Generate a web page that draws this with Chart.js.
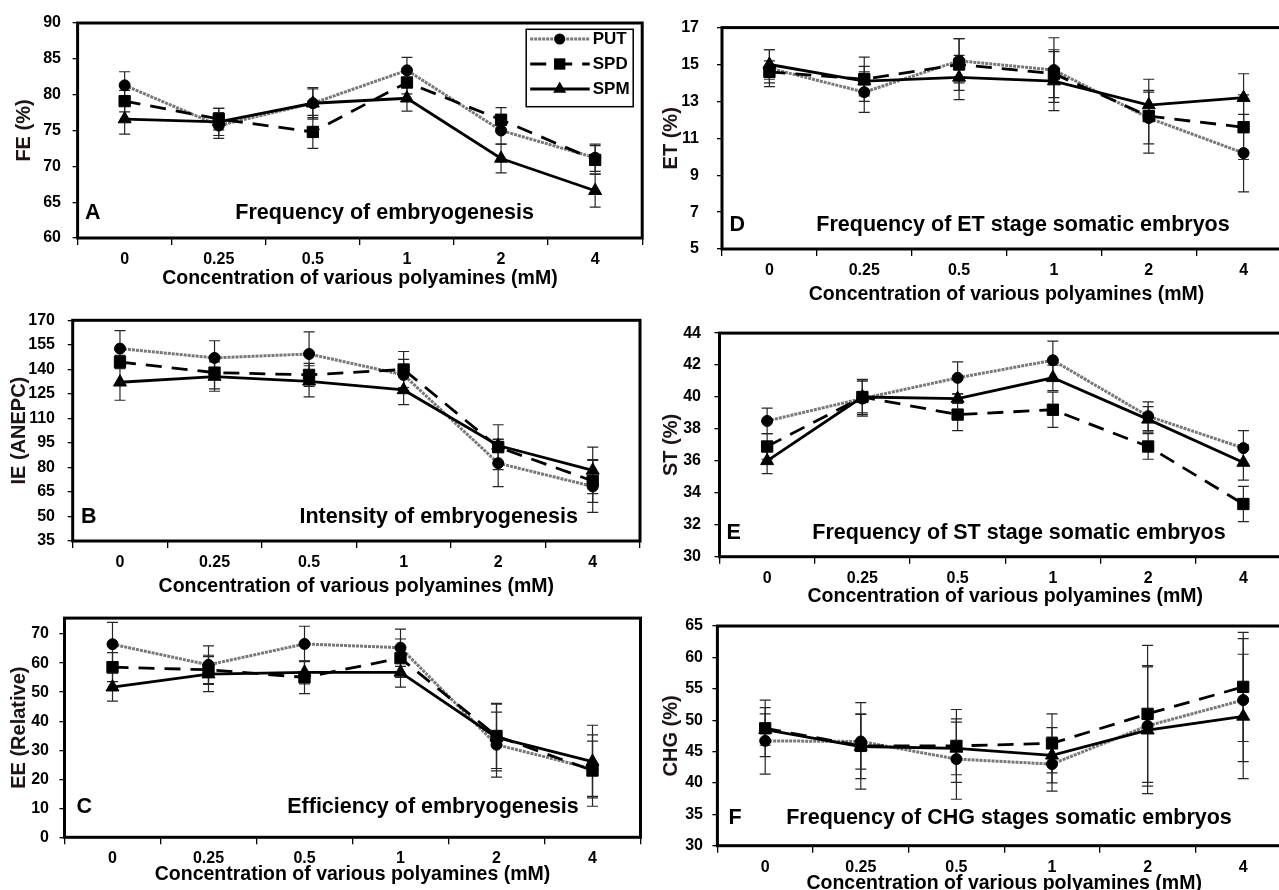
<!DOCTYPE html>
<html>
<head>
<meta charset="utf-8">
<title>Polyamines and somatic embryogenesis</title>
<script src="https://cdn.jsdelivr.net/npm/chart.js@4.4.0/dist/chart.umd.min.js"></script>
<style>
  html, body { margin: 0; padding: 0; background: #fff; overflow: hidden; width: 1279px; height: 890px; position: relative; }
  canvas { position: absolute; }
</style>
</head>
<body>
<canvas id="chartA" width="660" height="298" style="left:0;top:0"></canvas>
<canvas id="chartB" width="660" height="300" style="left:0;top:298px"></canvas>
<canvas id="chartC" width="660" height="292" style="left:0;top:598px"></canvas>
<canvas id="chartD" width="660" height="310" style="left:640px;top:0"></canvas>
<canvas id="chartE" width="660" height="300" style="left:640px;top:310px"></canvas>
<canvas id="chartF" width="660" height="297" style="left:640px;top:600px"></canvas>
<script>
// ────────────────────────────────────────
// Data
// ────────────────────────────────────────
const CONC_LABELS = ['0', '0.25', '0.5', '1', '2', '4'];
const SERIES_NAMES = ['PUT', 'SPD', 'SPM'];

// A — frequency of embryogenesis
const FE_PUT = [81.3, 75.7, 78.8, 83.4, 75.0, 71.2];
const FE_SPD = [79.1, 76.6, 74.8, 81.7, 76.5, 70.9];
const FE_SPM = [76.6, 76.2, 78.8, 79.5, 71.1, 66.6];
const FE_PUT_ERR = [1.9, 1.8, 2.2, 1.8, 1.9, 1.9];
const FE_SPD_ERR = [1.5, 1.5, 2.3, 1.6, 1.7, 2.0];
const FE_SPM_ERR = [2.1, 1.9, 2.0, 1.8, 2.0, 2.3];
const FE_TICKS = [60, 65, 70, 75, 80, 85, 90];

// B — intensity of embryogenesis
const IE_PUT = [152.7, 147.0, 149.4, 136.6, 82.6, 68.4];
const IE_SPD = [144.5, 138.0, 136.6, 139.9, 92.4, 71.7];
const IE_SPM = [132.1, 135.6, 132.7, 127.4, 93.4, 78.2];
const IE_PUT_ERR = [11.0, 10.5, 13.5, 9.5, 14.4, 15.9];
const IE_SPD_ERR = [4.0, 10.0, 7.0, 11.0, 13.7, 13.1];
const IE_SPM_ERR = [11.0, 9.0, 9.5, 9.0, 4.0, 14.2];
const IE_TICKS = [35, 50, 65, 80, 95, 110, 125, 140, 155, 170];

// C — efficiency of embryogenesis
const EE_PUT = [66.5, 59.4, 66.6, 65.3, 31.9, 23.6];
const EE_SPD = [58.6, 57.7, 55.1, 61.7, 34.9, 23.0];
const EE_SPM = [51.7, 56.2, 56.8, 56.8, 34.4, 26.1];
const EE_PUT_ERR = [7.5, 6.5, 6.1, 6.4, 11.2, 9.5];
const EE_SPD_ERR = [5.0, 5.0, 5.6, 6.6, 11.2, 12.3];
const EE_SPM_ERR = [4.8, 6.0, 4.0, 5.1, 11.5, 12.5];
const EE_TICKS = [0, 10, 20, 30, 40, 50, 60, 70];

// D — ET stage somatic embryos
const ET_PUT = [14.8, 13.5, 15.2, 14.7, 12.1, 10.2];
const ET_SPD = [14.6, 14.2, 15.0, 14.5, 12.2, 11.6];
const ET_SPM = [15.0, 14.1, 14.3, 14.1, 12.8, 13.2];
const ET_PUT_ERR = [1.0, 1.1, 1.2, 1.75, 1.4, 2.1];
const ET_SPD_ERR = [0.6, 1.2, 1.4, 1.3, 2.0, 1.75];
const ET_SPM_ERR = [0.8, 0.8, 1.2, 1.6, 0.8, 1.3];
const ET_TICKS = [5, 7, 9, 11, 13, 15, 17];

// E — ST stage somatic embryos
const ST_PUT = [38.5, 39.9, 41.2, 42.3, 38.8, 36.8];
const ST_SPD = [36.9, 40.0, 38.9, 39.2, 36.9, 33.3];
const ST_SPM = [36.0, 40.0, 39.9, 41.2, 38.6, 35.9];
const ST_PUT_ERR = [0.8, 1.1, 1.0, 1.2, 0.9, 1.1];
const ST_SPD_ERR = [0.8, 1.1, 1.0, 1.1, 0.8, 1.1];
const ST_SPM_ERR = [0.8, 1.0, 0.3, 0.8, 0.8, 1.1];
const ST_TICKS = [30, 32, 34, 36, 38, 40, 42, 44];

// F — CHG stages somatic embryos
const CHG_PUT = [46.7, 46.6, 43.8, 43.0, 49.1, 53.2];
const CHG_SPD = [48.7, 45.9, 45.9, 46.3, 51.0, 55.3];
const CHG_SPM = [48.5, 45.8, 45.5, 44.4, 48.4, 50.6];
const CHG_PUT_ERR = [5.3, 4.4, 6.4, 4.3, 9.6, 9.8];
const CHG_SPD_ERR = [4.5, 6.9, 5.8, 4.7, 10.9, 8.7];
const CHG_SPM_ERR = [2.5, 5.1, 4.2, 4.4, 10.1, 9.9];
const CHG_TICKS = [30, 35, 40, 45, 50, 55, 60, 65];

// ────────────────────────────────────────
// Styles
// ────────────────────────────────────────
const FONT_FAMILY = '"Liberation Sans", Arial, sans-serif';
Chart.defaults.font.family = FONT_FAMILY;
Chart.defaults.color = '#000';

const TICK_FONT = { family: FONT_FAMILY, size: 16, weight: 'bold' };
const TITLE_FONT = { family: FONT_FAMILY, size: 19.5, weight: 'bold' };
const CAPTION_FONT = 'bold 21.5px ' + FONT_FAMILY;
const LEGEND_FONT = 'bold 17px ' + FONT_FAMILY;

const SERIES_STYLE = [
    { color: '#787878', width: 3, dash: [3, 1], marker: 'circle', radius: 5.5 },
    { color: '#000', width: 2.8, dash: [16, 10], marker: 'rect', radius: 8 },
    { color: '#000', width: 2.8, dash: [], marker: 'triangle', radius: 7.5 },
];

function drawMarker(ctx, style, x, y, r) {
    ctx.beginPath();
    if (style === 'circle') {
        ctx.arc(x, y, r, 0, Math.PI * 2);
    } else if (style === 'rect') {
        const s = r * Math.SQRT1_2;
        ctx.rect(x - s, y - s, 2 * s, 2 * s);
    } else {
        ctx.moveTo(x, y - r);
        ctx.lineTo(x + r * Math.sin(2 * Math.PI / 3), y + r / 2);
        ctx.lineTo(x - r * Math.sin(2 * Math.PI / 3), y + r / 2);
        ctx.closePath();
    }
    ctx.fill();
}

function drawLegend(ctx, a) {
    const bw = 107, bh = 77.4;
    const bx = a.right - 9 - bw, by = a.top + 6.3;
    ctx.save();
    ctx.fillStyle = '#fff';
    ctx.fillRect(bx, by, bw, bh);
    ctx.lineWidth = 1.5;
    ctx.strokeStyle = '#000';
    ctx.strokeRect(bx, by, bw, bh);
    SERIES_STYLE.forEach((s, i) => {
        const cy = by + 9.7 + i * 25;
        ctx.save();
        ctx.strokeStyle = s.color;
        ctx.lineWidth = s.width;
        ctx.setLineDash(s.dash);
        ctx.beginPath();
        ctx.moveTo(bx + 4, cy);
        ctx.lineTo(bx + 63.5, cy);
        ctx.stroke();
        ctx.restore();
        ctx.fillStyle = '#000';
        drawMarker(ctx, s.marker, bx + 33.5, cy, s.radius);
        ctx.font = LEGEND_FONT;
        ctx.textAlign = 'left';
        ctx.textBaseline = 'middle';
        ctx.fillText(SERIES_NAMES[i], bx + 66.5, cy);
    });
    ctx.restore();
}

// error bars under the markers, frame + captions on top
const panelDecor = {
    id: 'panelDecor',
    beforeDatasetsDraw(chart) {
        const { ctx } = chart;
        const yScale = chart.scales.y;
        ctx.save();
        ctx.strokeStyle = '#262626';
        ctx.lineWidth = 1.2;
        chart.data.datasets.forEach((ds, i) => {
            const meta = chart.getDatasetMeta(i);
            meta.data.forEach((pt, j) => {
                const v = ds.data[j], e = ds.errors[j];
                const top = yScale.getPixelForValue(v + e);
                const bot = yScale.getPixelForValue(v - e);
                ctx.beginPath();
                ctx.moveTo(pt.x, top); ctx.lineTo(pt.x, bot);
                ctx.moveTo(pt.x - 5.5, top); ctx.lineTo(pt.x + 5.5, top);
                ctx.moveTo(pt.x - 5.5, bot); ctx.lineTo(pt.x + 5.5, bot);
                ctx.stroke();
            });
        });
        ctx.restore();
    },
    afterDraw(chart, args, opts) {
        const { ctx, chartArea: a } = chart;
        ctx.save();
        ctx.lineWidth = 3;
        ctx.strokeStyle = '#000';
        ctx.strokeRect(a.left, a.top, a.right - a.left, a.bottom - a.top);
        ctx.fillStyle = '#000';
        ctx.font = CAPTION_FONT;
        ctx.textBaseline = 'middle';
        ctx.textAlign = 'left';
        ctx.fillText(opts.letter, a.left + opts.letterDx, a.bottom + opts.captionDy);
        ctx.textAlign = 'center';
        ctx.fillText(opts.caption, a.left + opts.captionDx, a.bottom + opts.captionDy);
        ctx.restore();
        if (opts.legend) drawLegend(ctx, a);
    },
};

// ────────────────────────────────────────
// Panels
// ────────────────────────────────────────
const PANELS = [
    { id: 'chartA', yTitle: 'FE (%)', ticks: FE_TICKS, min: 60, max: 90,
      series: [FE_PUT, FE_SPD, FE_SPM], errors: [FE_PUT_ERR, FE_SPD_ERR, FE_SPM_ERR],
      letter: 'A', caption: 'Frequency of embryogenesis', legend: true,
      yWidth: 77.6, xHeight: 60, padTop: 23, padRight: 17.8,
      yTitlePad: 12.5, xTitlePad: 7.3, yTickPad: 11.6,
      letterDx: 7.5, captionDx: 307, captionDy: -25 },
    { id: 'chartB', yTitle: 'IE (ANEPC)', ticks: IE_TICKS, min: 35, max: 170,
      series: [IE_PUT, IE_SPD, IE_SPM], errors: [IE_PUT_ERR, IE_SPD_ERR, IE_SPM_ERR],
      letter: 'B', caption: 'Intensity of embryogenesis',
      yWidth: 72.7, xHeight: 57, padTop: 14, padRight: 20,
      yTitlePad: 7.6, xTitlePad: 0, yTickPad: 12.7,
      letterDx: 8.3, captionDx: 366, captionDy: -24 },
    { id: 'chartC', yTitle: 'EE (Relative)', ticks: EE_TICKS, min: 0, max: 75.5,
      series: [EE_PUT, EE_SPD, EE_SPM], errors: [EE_PUT_ERR, EE_SPD_ERR, EE_SPM_ERR],
      letter: 'C', caption: 'Efficiency of embryogenesis',
      yWidth: 64.5, xHeight: 52.7, padTop: 18, padRight: 19.5,
      yTitlePad: 7.3, xTitlePad: 3.3, yTickPad: 10.5,
      letterDx: 12, captionDx: 368.5, captionDy: -30 },
    { id: 'chartD', yTitle: 'ET (%)', ticks: ET_TICKS, min: 5, max: 17,
      series: [ET_PUT, ET_SPD, ET_SPM], errors: [ET_PUT_ERR, ET_SPD_ERR, ET_SPM_ERR],
      letter: 'D', caption: 'Frequency of ET stage somatic embryos',
      yWidth: 82, xHeight: 61, padTop: 20, padRight: 6,
      yTitlePad: 19.6, xTitlePad: 3.3, yTickPad: 18,
      letterDx: 7.6, captionDx: 301, captionDy: -24 },
    { id: 'chartE', yTitle: 'ST (%)', ticks: ST_TICKS, min: 30, max: 44,
      series: [ST_PUT, ST_SPD, ST_SPM], errors: [ST_PUT_ERR, ST_SPD_ERR, ST_SPM_ERR],
      letter: 'E', caption: 'Frequency of ST stage somatic embryos',
      yWidth: 79.5, xHeight: 53.3, padTop: 16.7, padRight: 4.5,
      yTitlePad: 19.6, xTitlePad: 1.3, yTickPad: 13.5,
      letterDx: 7, captionDx: 299.5, captionDy: -24 },
    { id: 'chartF', yTitle: 'CHG (%)', ticks: CHG_TICKS, min: 30, max: 65,
      series: [CHG_PUT, CHG_SPD, CHG_SPM], errors: [CHG_PUT_ERR, CHG_SPD_ERR, CHG_SPM_ERR],
      letter: 'F', caption: 'Frequency of CHG stages somatic embryos',
      yWidth: 77.4, xHeight: 51.3, padTop: 26, padRight: 7.2,
      yTitlePad: 19.6, xTitlePad: 1.3, yTickPad: 9.4,
      letterDx: 11.2, captionDx: 291.6, captionDy: -28 },
];

function buildDatasets(p) {
    return SERIES_NAMES.map((name, i) => {
        const s = SERIES_STYLE[i];
        return {
            label: name,
            data: p.series[i],
            errors: p.errors[i],
            borderColor: s.color,
            borderWidth: s.width,
            borderDash: s.dash,
            pointStyle: s.marker,
            pointRadius: s.radius,
            pointBackgroundColor: '#000',
            pointBorderColor: '#000',
            pointBorderWidth: 1,
            tension: 0,
            fill: false,
            order: 2 - i,
        };
    });
}

PANELS.forEach(p => {
    new Chart(document.getElementById(p.id), {
        type: 'line',
        data: { labels: CONC_LABELS, datasets: buildDatasets(p) },
        plugins: [panelDecor],
        options: {
            responsive: false,
            animation: false,
            devicePixelRatio: 1,
            layout: { padding: { left: 0, top: p.padTop, right: p.padRight, bottom: 0 } },
            plugins: {
                legend: { display: false },
                tooltip: { enabled: false },
                panelDecor: {
                    letter: p.letter, caption: p.caption, legend: !!p.legend,
                    letterDx: p.letterDx, captionDx: p.captionDx, captionDy: p.captionDy,
                },
            },
            scales: {
                x: {
                    type: 'category',
                    offset: true,
                    grid: { offset: true, drawOnChartArea: false, tickLength: 7, color: '#000', lineWidth: 1.3 },
                    border: { display: false },
                    ticks: { color: '#000', font: TICK_FONT, padding: 5, maxRotation: 0, autoSkip: false },
                    title: { display: true, text: 'Concentration of various polyamines (mM)', color: '#000',
                             font: TITLE_FONT, padding: { top: 0, bottom: p.xTitlePad } },
                    afterFit: s => { s.height = p.xHeight; },
                },
                y: {
                    type: 'linear',
                    min: p.min,
                    max: p.max,
                    afterBuildTicks: s => { s.ticks = p.ticks.map(v => ({ value: v })); },
                    grid: { drawOnChartArea: false, tickLength: 5, color: '#000', lineWidth: 1.3 },
                    border: { display: false },
                    ticks: { color: '#000', font: TICK_FONT, padding: p.yTickPad },
                    title: { display: true, text: p.yTitle, color: '#1e1414',
                             font: { family: FONT_FAMILY, size: 20, weight: 'bold' },
                             padding: { top: p.yTitlePad, bottom: 0 } },
                    afterFit: s => { s.width = p.yWidth; },
                },
            },
        },
    });
});
</script>
</body>
</html>
